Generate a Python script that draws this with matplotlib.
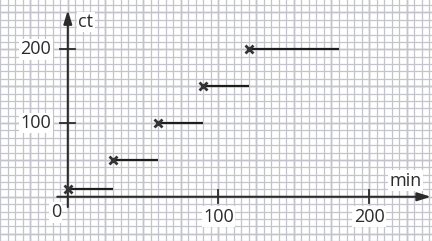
import numpy as np
import matplotlib.pyplot as plt

# parking fee steps: start minute, end minute, price in ct
starts = [0, 30, 60, 90, 120]
ends = [30, 60, 90, 120, 180]
prices = [10, 50, 100, 150, 200]

x_ticks = [100, 200]
y_ticks = [100, 200]

ink = '#2b2b2b'

fig = plt.figure(figsize=(4.32, 2.41), dpi=100, facecolor='white')
ax = fig.add_axes([0, 0, 1, 1])
ax.set_xlim(-44.0, 241.7)
ax.set_ylim(-52.3, 266.9)
for s in ax.spines.values():
    s.set_visible(False)
ax.tick_params(which='both', length=0, labelbottom=False, labelleft=False)

# graph paper
ax.set_xticks(np.arange(-45, 245, 5))
ax.set_yticks(np.arange(-60, 270, 10))
ax.grid(True, which='major', color='#c4c4cc', lw=0.9)
ax.set_axisbelow(True)
# slightly heavier lines every 25 min / 50 ct
for gx in np.arange(-25, 245, 25):
    ax.axvline(gx, color='#a8a8b0', lw=1.0, zorder=0.5)
for gy in np.arange(-50, 270, 50):
    ax.axhline(gy, color='#a8a8b0', lw=1.0, zorder=0.5)

# axes with arrows
ax.annotate('', xy=(241, 0), xytext=(-7, 0),
            arrowprops=dict(arrowstyle='-|>,head_length=0.8,head_width=0.25',
                            color=ink, lw=1.5, shrinkA=0, shrinkB=0))
ax.annotate('', xy=(0, 253), xytext=(0, -14),
            arrowprops=dict(arrowstyle='-|>,head_length=0.8,head_width=0.25',
                            color=ink, lw=1.5, shrinkA=0, shrinkB=0))

box = dict(facecolor='white', edgecolor='none', pad=1)
for xt in x_ticks:
    ax.plot([xt, xt], [-9, 9], color=ink, lw=1.3)
    ax.text(xt, -27, str(xt), ha='center', va='center', fontsize=13,
            color=ink, family='Open Sans', bbox=box)
for yt in y_ticks:
    ax.plot([-5.5, 5], [yt, yt], color=ink, lw=1.3)
    ax.text(-11, yt, str(yt), ha='right', va='center', fontsize=13,
            color=ink, family='Open Sans', bbox=box)
ax.text(-8, -21, '0', ha='center', va='center', fontsize=13, color=ink,
        family='Open Sans', bbox=box)
ax.text(224, 22, 'min', ha='center', va='center', fontsize=13, color=ink,
        family='Open Sans', bbox=box)
ax.text(12, 237, 'ct', ha='center', va='center', fontsize=13, color=ink,
        family='Open Sans', bbox=box)

# steps
ax.hlines(prices, starts, ends, color='#1e1e1e', lw=1.6, zorder=3)
ax.plot(starts, prices, 'x', color='#333333', ms=6, mew=2.0, zorder=4)

fig.savefig('out.png', dpi=100)
